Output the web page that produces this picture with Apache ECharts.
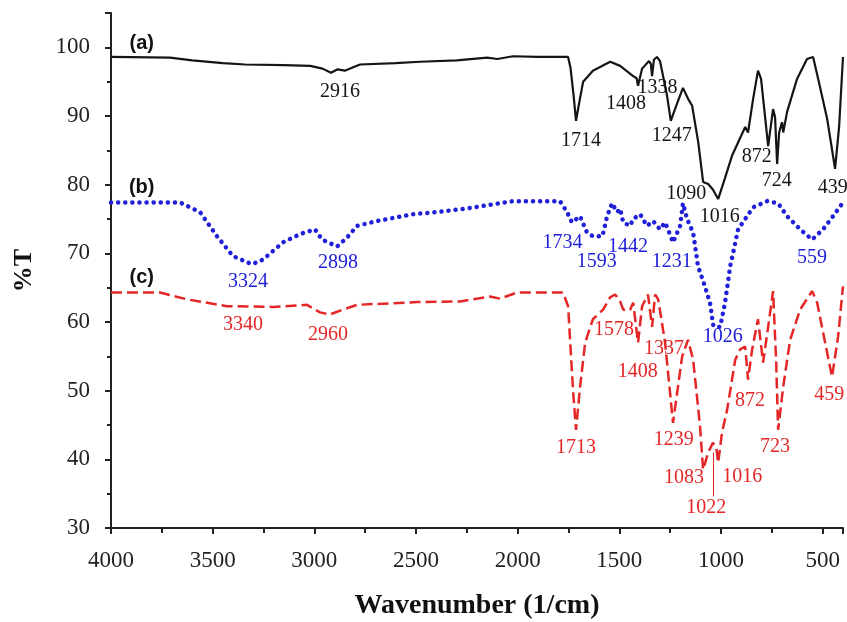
<!DOCTYPE html>
<html>
<head>
<meta charset="utf-8">
<script src="https://cdn.jsdelivr.net/npm/echarts@6/dist/echarts.min.js"></script>
<style>
  html, body { margin: 0; padding: 0; background: #fff; }
  #chart { width: 847px; height: 622px; }
</style>
</head>
<body>
<div id="chart"></div>
<script>
// (a) black spectrum
const waveA = [4000, 3710, 3600, 3450, 3340, 3150, 3020, 2960, 2918, 2885, 2850, 2800, 2775, 2600, 2480, 2300, 2150, 2100, 2023, 1900,
  1752, 1740, 1725, 1713, 1700, 1678, 1630, 1545, 1496, 1432, 1415, 1408, 1388, 1354, 1345, 1339, 1330, 1315, 1300, 1265,
  1247, 1220, 1187, 1162, 1142, 1112, 1088, 1063, 1040, 1014, 980, 946, 881, 867, 842, 818, 803, 768, 744, 734,
  724, 714, 700, 694, 675, 626, 577, 547, 522, 478, 439, 419, 400];
const transA = [98.6, 98.5, 98.1, 97.7, 97.5, 97.4, 97.3, 96.9, 96.3, 96.8, 96.6, 97.2, 97.5, 97.7, 97.9, 98.1, 98.5, 98.3, 98.7, 98.6,
  98.6, 97, 93, 89.3, 91.5, 95, 96.6, 97.9, 97.3, 95.8, 95.5, 94.4, 96.9, 98.0, 97.6, 95.8, 98.2, 98.6, 98.0, 92.9,
  89.3, 91.5, 94.1, 92.5, 91.5, 86.2, 80.4, 80.1, 79.3, 77.9, 81, 84.2, 88.4, 87.6, 92.5, 96.6, 95.4, 85.6, 91, 89.8,
  83, 87.6, 89.1, 87.6, 90.6, 95.4, 98.3, 98.6, 95.4, 89.6, 82.3, 88.5, 98.6];

// (b) blue spectrum
const waveB = [4000, 3660, 3562, 3479, 3400, 3306, 3252, 3154, 3070, 2997, 2962, 2888, 2839, 2790, 2692, 2515, 2400, 2234, 2023, 1792,
  1757, 1733, 1693, 1659, 1630, 1583, 1560, 1536, 1511, 1496, 1481, 1447, 1432, 1398, 1364, 1334, 1300, 1275, 1236, 1201,
  1187, 1167, 1137, 1113, 1088, 1054, 1039, 1026, 1004, 980, 955, 940, 916, 881, 842, 773, 719, 675, 611, 552,
  498, 449, 400];
const transB = [77.4, 77.4, 76, 72.5, 69.6, 68.4, 69.1, 71.6, 72.8, 73.5, 72, 71, 72.3, 74, 74.7, 75.7, 76, 76.6, 77.6, 77.6,
  76, 74.5, 75.4, 73, 72.5, 72.5, 75.4, 77.3, 76, 76.5, 74.5, 74, 75, 75.7, 74, 74.7, 73.5, 74.5, 71.6, 74,
  77.3, 75, 73, 68.1, 66, 62.8, 59.6, 59.2, 59.3, 62.8, 68.1, 70.1, 73.5, 75, 76.7, 77.6, 77.3, 75.4, 73.5, 72,
  73.5, 75.4, 77.4];

// (c) red spectrum
const waveC = [4000, 3759, 3626, 3430, 3200, 3036, 2972, 2923, 2859, 2790, 2495, 2283, 2136, 2087, 2003, 1777, 1752, 1727, 1713, 1693,
  1668, 1630, 1580, 1545, 1521, 1496, 1481, 1447, 1432, 1408, 1388, 1359, 1339, 1324, 1309, 1275, 1236, 1191, 1162, 1137,
  1103, 1088, 1063, 1040, 1023, 1014, 995, 970, 930, 906, 881, 867, 847, 818, 793, 768, 744, 729, 719, 694,
  660, 611, 552, 527, 488, 454, 424, 400];
const transC = [64.3, 64.3, 63.3, 62.3, 62.2, 62.5, 61.4, 61.1, 61.8, 62.5, 62.9, 63, 63.7, 63.4, 64.3, 64.3, 62.3, 49.7, 44.3, 50.6,
  57, 60.4, 61.8, 63.6, 64, 63, 61.8, 61.8, 62.8, 57, 62.3, 64, 59.3, 64, 63.3, 57, 45.3, 55, 57.4, 54.5,
  44.8, 38.5, 41, 42.4, 41.7, 39.5, 43.9, 47.2, 54.5, 56, 56.4, 51.6, 56, 60.4, 54.1, 59.3, 64.5, 54.5, 44.3, 50.6,
  57.4, 61.8, 64.5, 62.8, 57, 52, 57.9, 65.2];

// peak labels: text + anchor [wavenumber, %T]
const peakTextA = ['2916', '1714', '1408', '1338', '1247', '1090', '1016', '872', '724', '439'];
const peakAtA = [[2874, 93.5], [1689, 86.4], [1467, 91.8], [1312, 94.1], [1242, 87.1], [1171, 78.7], [1006, 75.4], [824, 84], [726, 80.5], [451, 79.6]];
const peakTextB = ['3324', '2898', '1734', '1593', '1442', '1231', '1026', '559'];
const peakAtB = [[3326, 65.9], [2883, 68.7], [1779, 71.5], [1611, 68.8], [1457, 71], [1242, 68.8], [992, 57.9], [553, 69.4]];
const peakTextC = ['3340', '2960', '1578', '1337', '1408', '1713', '1239', '1083', '1016', '1022', '872', '723', '459'];
const peakAtC = [[3351, 59.6], [2933, 58.2], [1526, 58.8], [1280, 56.1], [1410, 52.8], [1713, 41.7], [1232, 42.8], [1182, 37.3], [896, 37.4], [1073, 32.9], [857, 48.5], [735, 41.8], [468, 49.4]];

const curveNames = ['(a)', '(b)', '(c)'];
const curveNameAt = [[3849, 100.5], [3849, 79.6], [3849, 66.5]];

const BLACK = '#151515', BLUE = '#2020d8', RED = '#e42626';
const SERIF = 'Liberation Serif';

function pairs(w, t) {
  return w.map((x, i) => [-x, t[i]]);
}

function labelSeries(texts, pos, color, font, size, weight) {
  return {
    type: 'scatter',
    symbolSize: 0,
    silent: true,
    z: 5,
    itemStyle: { opacity: 1 },
    data: texts.map((t, i) => ({ name: t, value: [-pos[i][0], pos[i][1]] })),
    label: {
      show: true, position: 'inside', formatter: p => p.name,
      color: color, fontFamily: font, fontSize: size, fontWeight: weight || 'normal'
    }
  };
}

const chart = echarts.init(document.getElementById('chart'));
chart.setOption({
  animation: false,
  backgroundColor: '#fff',
  grid: { left: 111, right: 4, top: 13, bottom: 94, containLabel: false, outerBoundsMode: 'none' },
  xAxis: {
    type: 'value',
    min: -4000, max: -400, interval: 500,
    name: 'Wavenumber (1/cm)',
    nameLocation: 'middle', nameGap: 64,
    nameTextStyle: { fontFamily: SERIF, fontWeight: 'bold', fontSize: 28, color: '#111' },
    axisLine: { lineStyle: { color: '#222', width: 2 } },
    axisTick: { show: true, length: 6, lineStyle: { color: '#222', width: 2 } },
    minorTick: { show: true, splitNumber: 2, length: 5, lineStyle: { color: '#222', width: 2 } },
    axisLabel: {
      margin: 21, fontFamily: SERIF, fontSize: 23, color: '#222',
      formatter: v => (v % 500 === 0 ? String(-v) : '')
    },
    splitLine: { show: false }
  },
  yAxis: {
    type: 'value',
    min: 30, max: 105, interval: 10,
    name: '%T',
    nameLocation: 'middle', nameGap: 74, nameRotate: 90,
    nameTextStyle: { fontFamily: SERIF, fontWeight: 'bold', fontSize: 26, color: '#111' },
    axisLine: { show: true, lineStyle: { color: '#222', width: 2 } },
    axisTick: { show: true, length: 6, lineStyle: { color: '#222', width: 2 } },
    minorTick: { show: true, splitNumber: 2, length: 4, lineStyle: { color: '#222', width: 2 } },
    axisLabel: {
      margin: 21, fontFamily: SERIF, fontSize: 23, color: '#222',
      formatter: v => (v % 10 === 0 ? String(v) : '')
    },
    splitLine: { show: false }
  },
  series: [
    {
      type: 'line', data: pairs(waveA, transA), showSymbol: false,
      lineStyle: { color: BLACK, width: 2.2 }
    },
    {
      type: 'line', data: pairs(waveB, transB), showSymbol: false,
      lineStyle: { color: BLUE, width: 4.5, type: [0.1, 7], cap: 'round' }
    },
    {
      type: 'line', data: pairs(waveC, transC), showSymbol: false,
      lineStyle: { color: RED, width: 2.5, type: [11, 5] },
      markLine: {
        silent: true, symbol: 'none', label: { show: false },
        lineStyle: { color: RED, width: 1, type: 'solid' },
        data: [[{ coord: [-1040, 41] }, { coord: [-1040, 34.6] }]]
      }
    },
    labelSeries(peakTextA, peakAtA, BLACK, SERIF, 20),
    labelSeries(peakTextB, peakAtB, BLUE, SERIF, 20),
    labelSeries(peakTextC, peakAtC, RED, SERIF, 20),
    labelSeries(curveNames, curveNameAt, '#111', 'Liberation Sans', 20, 'bold')
  ]
});
</script>
</body>
</html>
